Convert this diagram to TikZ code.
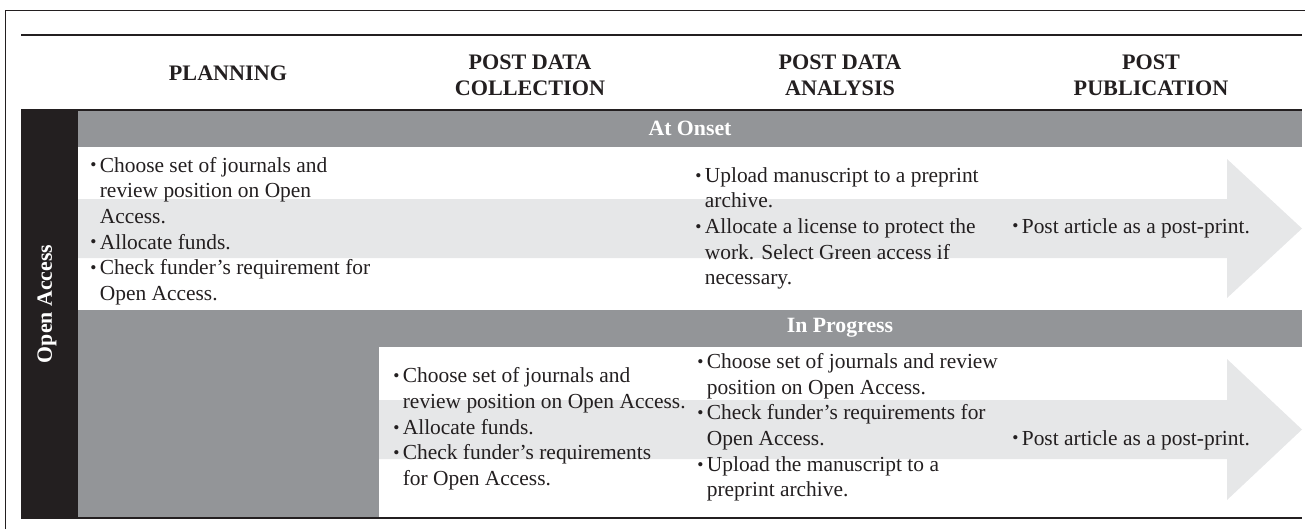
\documentclass[tikz,border=0pt]{standalone}
\usepackage{fontspec}
\setmainfont{Liberation Serif}
\usepackage{tikz}

\definecolor{bandgray}{HTML}{939598}
\definecolor{arrowgray}{HTML}{E6E7E8}
\definecolor{inkblack}{HTML}{231F20}

\newcommand{\bitem}{\makebox[0.19cm][l]{\raisebox{0.12ex}{\fontsize{10}{10}\selectfont\textbullet}}}
\newcommand{\bcont}{\hspace*{0.19cm}}

\begin{document}
\begin{tikzpicture}[x=0.02cm, y=-0.02cm,
    txt/.style={font=\fontsize{12.2}{14.6}\selectfont, text=inkblack, inner sep=0pt},
    blist/.style={txt, align=left, anchor=west},
    head/.style={txt, font=\fontsize{12.6}{14.8}\selectfont\bfseries, align=center},
    bandtxt/.style={txt, font=\fontsize{12.4}{14.6}\selectfont\bfseries, text=white},
    rule/.style={line width=0.7pt, draw=inkblack}]

\useasboundingbox (0,0) rectangle (1305,529);

\fill[bandgray] (78,110) rectangle (1302,147);
\fill[bandgray] (78,310) rectangle (1302,347);
\fill[bandgray] (78,347) rectangle (379,518);
\fill[inkblack] (21,110) rectangle (78,518);

\fill[arrowgray] (78,199) -- (1227,199) -- (1227,159) -- (1302,228.5)
    -- (1227,298) -- (1227,258) -- (78,258) -- cycle;
\fill[arrowgray] (379,400) -- (1227,400) -- (1227,359) -- (1302,429.5)
    -- (1227,500) -- (1227,459) -- (379,459) -- cycle;

\draw[line width=0.5pt, draw=inkblack] (5,529) -- (5,10) -- (1305,10);
\draw[rule] (21,35) -- (1302,35);
\draw[rule] (21,110) -- (1302,110);
\draw[rule] (21,518) -- (1302,518);

\node[head] (planning) at (228,73) {PLANNING};
\node[head] (postcoll) at (530,75) {POST DATA\\COLLECTION};
\node[head] (postanal) at (840,75) {POST DATA\\ANALYSIS};
\node[head] (postpub) at (1151,75) {POST\\PUBLICATION};

\node[bandtxt] (onset) at (690,128) {At Onset};
\node[bandtxt] (progress) at (840,328) {In Progress};
\node[bandtxt, rotate=90] (oa) at (47,304) {Open Access};

\node[blist] (onsetplan) at (90,231)
    {\bitem Choose set of journals and\\
     \bcont review position on Open\\
     \bcont Access.\\
     \bitem Allocate funds.\\
     \bitem Check funder's requirement for\\
     \bcont Open Access.};

\node[blist] (onsetanal) at (695,228.5)
    {\bitem Upload manuscript to a preprint\\
     \bcont archive.\\
     \bitem Allocate a license to protect the\\
     \bcont work. Select Green access if\\
     \bcont necessary.};

\node[blist] (onsetpub) at (1012,228) {\bitem Post article as a post-print.};

\node[blist] (progcoll) at (393,429)
    {\bitem Choose set of journals and\\
     \bcont review position on Open Access.\\
     \bitem Allocate funds.\\
     \bitem Check funder's requirements\\
     \bcont for Open Access.};

\node[blist] (proganal) at (697,427.5)
    {\bitem Choose set of journals and review\\
     \bcont position on Open Access.\\
     \bitem Check funder's requirements for\\
     \bcont Open Access.\\
     \bitem Upload the manuscript to a\\
     \bcont preprint archive.};

\node[blist] (progpub) at (1012,440) {\bitem Post article as a post-print.};

\end{tikzpicture}
\end{document}
